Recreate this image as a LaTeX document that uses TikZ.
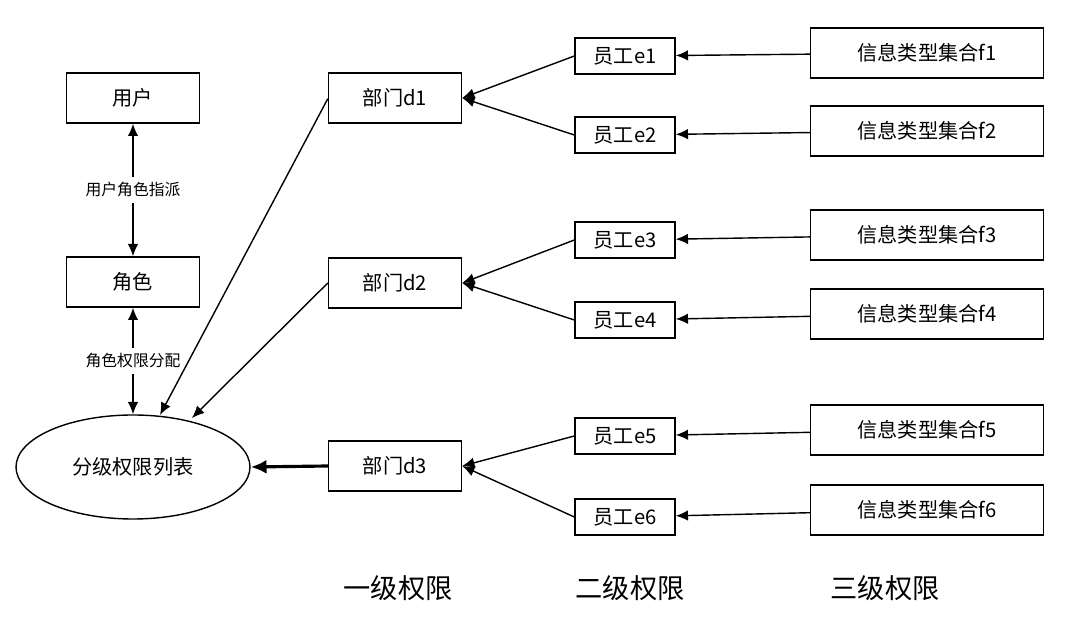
\documentclass[tikz,border=0pt]{standalone}
\usepackage{fontspec}
\setmainfont{Noto Sans CJK SC}
\usetikzlibrary{shapes.geometric,arrows.meta}
\begin{document}
\begin{tikzpicture}[x=0.02cm,y=-0.02cm,
 box/.style={draw,thick,minimum width=#1*0.02cm,inner sep=0pt,font=\fontsize{11.5}{13}\selectfont},
 bb/.style={box=133,minimum height=1cm},
 eb/.style={box=100,minimum height=0.72cm},
 fb/.style={box=233,minimum height=1cm},
 ar/.style={-{Latex[length=7pt,width=6pt]},thick},
 lab/.style={font=\fontsize{15.5}{17}\selectfont}]
\useasboundingbox (0,0) rectangle (1080,631);
\node[bb] (u) at (133,98) {用户};
\node[bb] (r) at (133,282) {角色};
\node[draw,thick,ellipse,minimum width=234*0.02cm,minimum height=104*0.02cm,font=\fontsize{11.5}{13}\selectfont] (l) at (133,467) {分级权限列表};
\node[bb] (d1) at (395,98) {部门d1};
\node[bb] (d2) at (395,283) {部门d2};
\node[bb] (d3) at (395,466) {部门d3};
\foreach \i/\y in {1/56,2/135,3/240,4/320,5/436,6/517}{\node[eb] (e\i) at (625,\y) {员工e\i};}
\foreach \i/\y in {1/53,2/131,3/235,4/314,5/430,6/510}{\node[fb] (f\i) at (927,\y) {信息类型集合f\i};}
\foreach \i in {1,...,6}{\draw[ar] (f\i) -- (e\i);}
\draw[ar] (e1.west) -- (d1.east); \draw[ar] (e2.west) -- (d1.east);
\draw[ar] (e3.west) -- (d2.east); \draw[ar] (e4.west) -- (d2.east);
\draw[ar] (e5.west) -- (d3.east); \draw[ar] (e6.west) -- (d3.east);
\draw[ar,{Latex[length=7pt,width=6pt]}-{Latex[length=7pt,width=6pt]}] (u) -- node[fill=white,font=\fontsize{9}{10}\selectfont]{用户角色指派} (r);
\draw[ar,{Latex[length=7pt,width=6pt]}-{Latex[length=7pt,width=6pt]}] (r) -- node[fill=white,font=\fontsize{9}{10}\selectfont]{角色权限分配} (l.north);
\coordinate (p1) at (160,415); \coordinate (p2) at (192,418);
\draw[ar] (d1.south west) ++(0,-25) -- (p1);
\draw[ar] (d2.west) -- (p2);
\draw[-{Latex[length=9pt,width=8pt]},line width=1.8pt] (d3.west) -- (l.east);
\node[lab] (t1) at (398,588) {一级权限};
\node[lab] (t2) at (630,588) {二级权限};
\node[lab] (t3) at (885,588) {三级权限};
\end{tikzpicture}
\end{document}
